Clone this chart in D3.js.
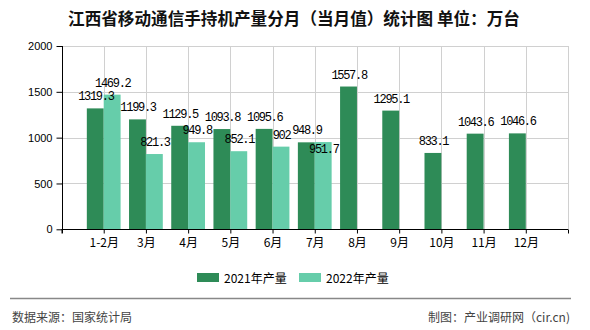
<!DOCTYPE html>
<html><head><meta charset="utf-8">
<script src="https://cdn.jsdelivr.net/npm/d3@7"></script>
<style>
html,body{margin:0;padding:0;background:#fff;}
svg{display:block;}
</style>
</head><body>
<svg id="chart" width="590" height="330"></svg>
<script>
const categories = ["1-2月","3月","4月","5月","6月","7月","8月","9月","10月","11月","12月"];
const series2021 = [1319.3,1199.3,1129.5,1093.8,1095.6,948.9,1557.8,1295.1,833.1,1043.6,1046.6];
const series2022 = [1469.2,821.3,949.8,852.1,902,951.7];
const yTicks = [0,500,1000,1500,2000];
const seriesNames = ["2021年产量","2022年产量"];
const colors = ["#2e8b57","#66cdaa"];
const titleText = "江西省移动通信手持机产量分月（当月值）统计图 单位：万台";
const sourceText = "数据来源：国家统计局";
const creditText = "制图：产业调研网（cir.cn)";

const svg = d3.select("#chart");
const m = {left:61.5, right:568, top:46, bottom:229.3};

const x = d3.scaleLinear().domain([0, categories.length + 1]).range([m.left, m.right]);
const y = d3.scaleLinear().domain([0, 2000]).range([m.bottom, m.top]);
const step = x(1) - x(0);
const bw = step * 0.4;

// title
svg.append("text").attr("x", 294).attr("y", 17.5)
  .attr("text-anchor","middle").attr("dominant-baseline","central")
  .style("font-family","'Noto Sans CJK SC'").style("font-size","16.6px").style("font-weight","bold")
  .attr("fill","#111").text(titleText);

// grid
const g = svg.append("g");
g.selectAll(".hg").data(yTicks.filter(d=>d>0)).join("line")
  .attr("x1", m.left).attr("x2", m.right)
  .attr("y1", d=>Math.round(y(d))+0.5).attr("y2", d=>Math.round(y(d))+0.5)
  .attr("stroke","#d0d0d0").attr("stroke-width",1);
const vTicks = d3.range(1, categories.length + 2);
g.selectAll(".vg").data(vTicks).join("line")
  .attr("x1", d=>Math.round(x(d))+0.5).attr("x2", d=>Math.round(x(d))+0.5)
  .attr("y1", m.top).attr("y2", m.bottom)
  .attr("stroke","#d0d0d0").attr("stroke-width",1);

// bars
const data = categories.map((c,i)=>({c, i, a: series2021[i], b: series2022[i]}));
g.selectAll(".b1").data(data).join("rect")
  .attr("x", d=>x(d.i+1)-bw).attr("width", bw)
  .attr("y", d=>y(d.a)).attr("height", d=>y(0)-y(d.a))
  .attr("fill", colors[0]);
g.selectAll(".b2").data(data.filter(d=>d.b!=null)).join("rect")
  .attr("x", d=>x(d.i+1)).attr("width", bw)
  .attr("y", d=>y(d.b)).attr("height", d=>y(0)-y(d.b))
  .attr("fill", colors[1]);

// axes
const yAxis = d3.axisLeft(y).tickValues(yTicks).tickSize(6).tickPadding(4).tickFormat(d3.format("d"));
const ya = svg.append("g").attr("transform",`translate(${Math.round(m.left)+0.5},0)`).call(yAxis);
ya.select(".domain").attr("d", `M0,${m.top}V${m.bottom+4}`).attr("stroke","#000");
ya.selectAll(".tick line").attr("stroke","#000");
ya.selectAll("text").style("font-family","'Liberation Sans'").style("font-size","11px").attr("fill","#000");

const xAxis = d3.axisBottom(x).tickValues(d3.range(0, categories.length + 2)).tickSize(4).tickPadding(4)
  .tickFormat(d => (d>=1 && d<=categories.length) ? categories[d-1] : "");
const xa = svg.append("g").attr("transform",`translate(0,${Math.round(m.bottom)+0.5})`).call(xAxis);
xa.select(".domain").attr("d", `M${m.left},0H${m.right}`).attr("stroke","#000");
xa.selectAll(".tick line").attr("stroke","#000");
xa.selectAll("text").style("font-family","'Noto Sans CJK SC'").style("font-size","12px").attr("fill","#000").attr("dy","0.75em");

// value labels
const lab = svg.append("g").style("font-family","'Liberation Mono'").style("font-size","12px")
  .style("letter-spacing","-1.3px").attr("fill","#000").attr("text-anchor","middle");
const labels1 = data.map(d=>({x: x(d.i+1)-bw/2, y: y(d.a)-8, t: String(d.a)}));
const labels2 = data.filter(d=>d.b!=null).map(d=>({x: x(d.i+1)+bw/2, y: y(d.b)-8, t: String(d.b), i:d.i}));
const cw = 5.9;
labels2.forEach(l2=>{
  const l1 = labels1[l2.i];
  const hOverlap = Math.abs(l1.x - l2.x) < (l1.t.length + l2.t.length)*cw/2;
  const vOverlap = Math.abs(l1.y - l2.y) < 10;
  if (hOverlap && vOverlap) l2.y = l1.y + 19;
});
lab.selectAll(".l1").data(labels1).join("text").attr("x",d=>d.x+0.6).attr("y",d=>d.y).text(d=>d.t);
lab.selectAll(".l2").data(labels2).join("text").attr("x",d=>d.x+0.6).attr("y",d=>d.y).text(d=>d.t);

// legend
const leg = svg.append("g");
const legX = [197, 299];
seriesNames.forEach((n,i)=>{
  leg.append("rect").attr("x",legX[i]).attr("y",273).attr("width",22).attr("height",9).attr("fill",colors[i]);
  leg.append("text").attr("x",legX[i]+27).attr("y",277.5).attr("dominant-baseline","central")
    .style("font-family","'Noto Sans CJK SC'").style("font-size","12px").attr("fill","#000").text(n);
});

// footer
svg.append("line").attr("x1",10).attr("x2",571).attr("y1",298.5).attr("y2",298.5)
  .attr("stroke","#888").attr("stroke-width",1.5);
svg.append("text").attr("x",12).attr("y",316).attr("dominant-baseline","central")
  .style("font-family","'Noto Sans CJK SC'").style("font-size","12px").attr("fill","#444").text(sourceText);
svg.append("text").attr("x",570).attr("y",316).attr("dominant-baseline","central").attr("text-anchor","end")
  .style("font-family","'Noto Sans CJK SC'").style("font-size","12px").attr("fill","#444").text(creditText);
</script>
</body></html>
